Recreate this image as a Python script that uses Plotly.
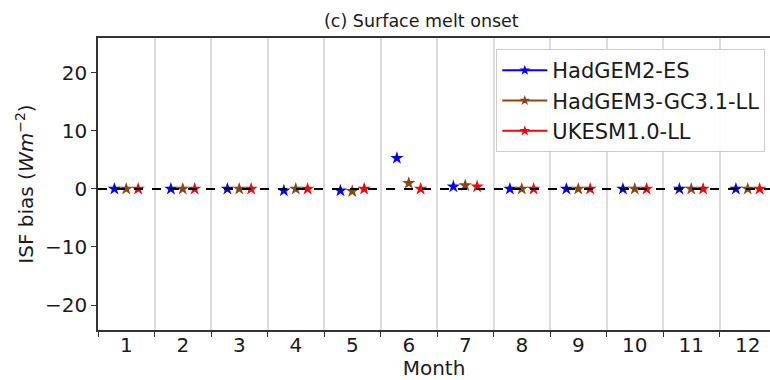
import plotly.graph_objects as go

months = list(range(1, 13))
month_labels = [str(m) for m in months]
series_names = ["HadGEM2-ES", "HadGEM3-GC3.1-LL", "UKESM1.0-LL"]
hadgem2 = [0.0, 0.0, 0.0, -0.3, -0.3, 5.3, 0.4, 0.0, 0.0, 0.0, 0.0, 0.0]
hadgem3 = [0.0, 0.0, 0.0, 0.0, -0.4, 1.0, 0.6, 0.0, 0.0, 0.0, 0.0, 0.0]
ukesm = [0.0, 0.0, 0.0, 0.0, 0.0, 0.0, 0.4, 0.0, 0.0, 0.0, 0.0, 0.0]
offsets = [-0.21, 0.0, 0.21]
colors = ["#0000ff", "#8b4513", "#ff0000"]

fig = go.Figure()
for name, vals, off, col in zip(series_names, [hadgem2, hadgem3, ukesm], offsets, colors):
    fig.add_trace(go.Scatter(
        x=[m + off for m in months], y=vals, mode="markers",
        marker=dict(symbol="star", size=10, color=col, line=dict(width=0)),
        showlegend=False, hoverinfo="skip"))
    fig.add_trace(go.Scatter(
        x=[None], y=[None], mode="lines+markers", name=name,
        line=dict(color=col, width=2),
        marker=dict(symbol="star", size=8, color=col, line=dict(width=0))))

fig.add_shape(type="line", xref="paper", yref="y", x0=0, x1=1, y0=0, y1=0,
              line=dict(color="black", width=2, dash="dash"))

fig.update_layout(
    width=770, height=380,
    margin=dict(l=98, r=0, t=38, b=50),
    paper_bgcolor="white", plot_bgcolor="white",
    font=dict(family="DejaVu Sans", size=20, color="#1a1a1a"),
    showlegend=True,
    legend=dict(x=0.993, y=0.962, xanchor="right", yanchor="top",
                bgcolor="rgba(255,255,255,0.9)", bordercolor="#cccccc", borderwidth=1,
                font=dict(size=21), tracegroupgap=0, itemwidth=45),
    annotations=[dict(text="(c) Surface melt onset", xref="paper", yref="paper",
                      x=0.482, y=1.0, xanchor="center", yanchor="bottom", yshift=5,
                      showarrow=False, font=dict(size=17.5))],
)
fig.update_xaxes(
    range=[0.5, 0.5 + 672 / 56.5],
    tickmode="array", tickvals=months, ticktext=month_labels,
    ticks="", showgrid=False, zeroline=False, ticklabelstandoff=-4,
    showline=True, linecolor="#333333", linewidth=1.5, mirror=True,
    title=dict(text="Month", standoff=2, font=dict(size=20)),
    tickfont=dict(size=20),
    minor=dict(tick0=0.5, dtick=1, ticks="outside", ticklen=5, tickcolor="#333333",
               showgrid=True, gridcolor="#dcdcdc", gridwidth=1.5),
)
fig.update_yaxes(
    range=[-24.3, 26.0],
    tickmode="array", tickvals=[-20, -10, 0, 10, 20],
    ticktext=["\u221220", "\u221210", "0", "10", "20"],
    ticks="outside", ticklen=5, tickcolor="#333333",
    showgrid=False, zeroline=False,
    showline=True, linecolor="#333333", linewidth=1.5, mirror=False,
    title=dict(text="ISF bias (<i>Wm</i><sup>\u22122</sup>)", standoff=6, font=dict(size=20)),
    tickfont=dict(size=20),
)

fig.write_html("out.html")
